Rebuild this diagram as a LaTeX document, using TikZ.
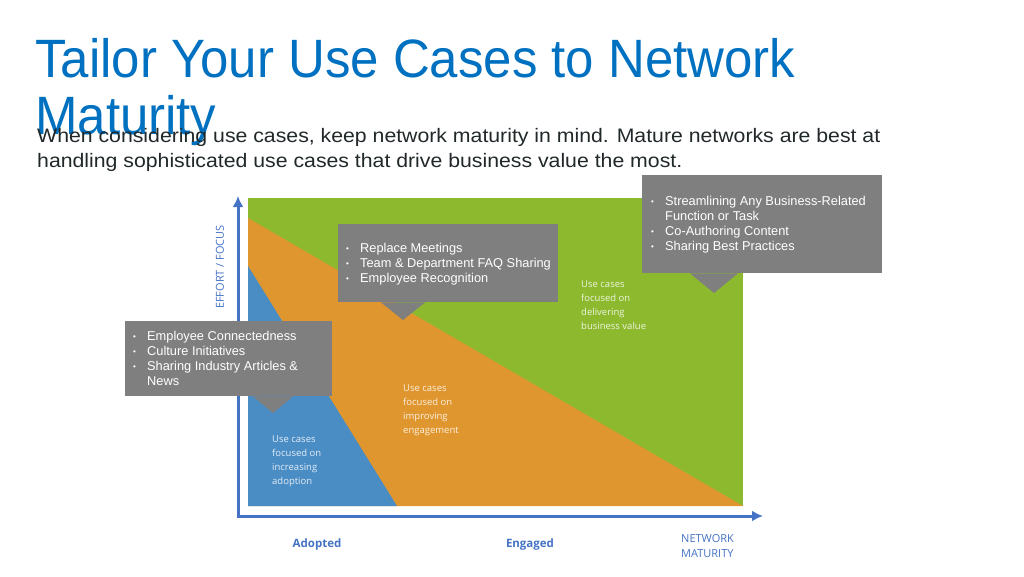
\documentclass[tikz,border=0pt]{standalone}
\usepackage{fontspec}
\setmainfont{Liberation Sans}
\newfontfamily\segoe{Open Sans}
\usetikzlibrary{arrows.meta,calc}
\definecolor{titleblue}{RGB}{0,112,192}
\definecolor{subgray}{RGB}{32,40,42}
\definecolor{areagreen}{RGB}{141,185,46}
\definecolor{areaorange}{RGB}{224,150,46}
\definecolor{areablue}{RGB}{74,140,196}
\definecolor{boxgray}{RGB}{127,127,127}
\definecolor{axisblue}{RGB}{68,114,196}
\newcommand\bitem[1]{\makebox[14pt][l]{\raisebox{1pt}{\fontsize{8}{8}\selectfont\textbullet}}#1}
\newcommand\bcont[1]{\hspace*{14pt}#1}
\begin{document}
\begin{tikzpicture}[x=1pt,y=-1pt,
  titletext/.style={anchor=base west, inner sep=0pt, text=titleblue, font=\fontsize{54}{60}\selectfont},
  subtext/.style={anchor=base west, inner sep=0pt, text=subgray, font=\fontsize{19.5}{25}\selectfont},
  calloutbox/.style={fill=boxgray, draw=none, anchor=north west, inner sep=0pt},
  callouttext/.style={anchor=base west, inner sep=0pt, text=white, font=\fontsize{12.8}{15}\selectfont},
  areatext/.style={anchor=base west, inner sep=0pt, text=white, text opacity=0.85, font=\segoe\fontsize{9.5}{14}\selectfont},
  axislabel/.style={inner sep=0pt, text=axisblue, font=\segoe\fontsize{11}{15}\selectfont},
  axisline/.style={draw=axisblue, line width=3pt, {Latex[length=11pt,width=11pt]}-{Latex[length=11pt,width=11pt]}}
]
\useasboundingbox (0,0) rectangle (1024,576);

% title and subtitle
\node[titletext] (title1) at (35,77) {\scalebox{0.944}[1]{Tailor Your Use Cases to Network}};
\node[titletext] (title2) at (35,134) {\scalebox{0.944}[1]{Maturity}};
\node[subtext] (sub1) at (37,142) {\scalebox{1.09}[1]{When considering use cases, keep network maturity in mind. Mature networks are best at}};
\node[subtext] (sub2) at (37,167) {\scalebox{1.09}[1]{handling sophisticated use cases that drive business value the most.}};

% chart areas
\fill[areagreen] (248,198) rectangle (743,506);
\fill[areaorange] (248,218) -- (743,506) -- (248,506) -- cycle;
\fill[areablue] (248,266) -- (397,506) -- (248,506) -- cycle;

% axes
\coordinate (ytop) at (238,196);
\coordinate (origin) at (238,516);
\coordinate (xend) at (763,516);
\draw[axisline] (ytop) -- (origin) -- (xend);

% axis labels
\node[axislabel, rotate=90] (ylab) at (220,267) {EFFORT / FOCUS};
\node[axislabel, anchor=base, font=\segoe\bfseries\fontsize{11.5}{15}\selectfont] (adopted) at (317,547) {Adopted};
\node[axislabel, anchor=base, font=\segoe\bfseries\fontsize{11.5}{15}\selectfont] (engaged) at (530,547) {Engaged};
\node[axislabel, anchor=base west] (netmat) at (681,542) {\parbox[t]{80pt}{\baselineskip=15pt NETWORK\\MATURITY}};

% area labels
\node[areatext] (lblue) at (272,442) {\parbox[t]{100pt}{Use cases\\focused on\\increasing\\adoption}};
\node[areatext] (lorange) at (403,391) {\parbox[t]{100pt}{Use cases\\focused on\\improving\\engagement}};
\node[areatext] (lgreen) at (581,287) {\parbox[t]{100pt}{Use cases\\focused on\\delivering\\business value}};

% callout 1
\node[calloutbox, minimum width=207pt, minimum height=75pt] (box1) at (125,321) {};
\coordinate (tip1) at (273,413);
\fill[boxgray] ($(box1.south west)+(128,0)$) -- (tip1) -- ($(box1.south west)+(168,0)$) -- cycle;
\node[callouttext] (text1) at ($(box1.north west)+(8,19.5)$) {\parbox[t]{200pt}{\bitem{Employee Connectedness}\\\bitem{Culture Initiatives}\\\bitem{Sharing Industry Articles \&}\\\bcont{News}}};

% callout 2
\node[calloutbox, minimum width=220pt, minimum height=78pt] (box2) at (338,224) {};
\coordinate (tip2) at (403,320);
\fill[boxgray] ($(box2.south west)+(43,0)$) -- (tip2) -- ($(box2.south west)+(87,0)$) -- cycle;
\node[callouttext] (text2) at ($(box2.north west)+(8,28.5)$) {\parbox[t]{215pt}{\bitem{Replace Meetings}\\\bitem{Team \& Department FAQ Sharing}\\\bitem{Employee Recognition}}};

% callout 3
\node[calloutbox, minimum width=240pt, minimum height=98pt] (box3) at (642,175) {};
\coordinate (tip3) at (714,293);
\fill[boxgray] ($(box3.south west)+(48,0)$) -- (tip3) -- ($(box3.south west)+(96,0)$) -- cycle;
\node[callouttext] (text3) at ($(box3.north west)+(9,30.5)$) {\parbox[t]{230pt}{\bitem{Streamlining Any Business-Related}\\\bcont{Function or Task}\\\bitem{Co-Authoring Content}\\\bitem{Sharing Best Practices}}};
\end{tikzpicture}
\end{document}
